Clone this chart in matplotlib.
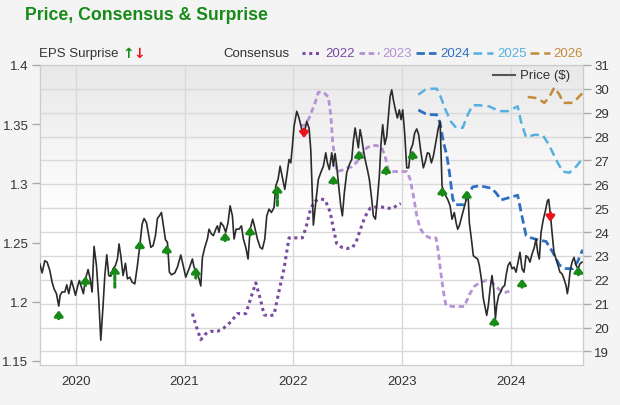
import matplotlib
matplotlib.use('Agg')
import numpy as np
from matplotlib import pyplot as plt
from matplotlib.lines import Line2D

plt.rcParams['font.family'] = ['Liberation Sans', 'DejaVu Sans']

# share price ($), time as decimal year
price_t = [2019.668, 2019.689, 2019.714, 2019.735, 2019.760, 2019.781, 2019.799, 2019.821, 2019.842, 2019.855,
           2019.873, 2019.898, 2019.916, 2019.934, 2019.959, 2019.977, 2019.996, 2020.014, 2020.032, 2020.051,
           2020.069, 2020.088, 2020.112, 2020.131, 2020.149, 2020.167, 2020.189, 2020.210, 2020.229, 2020.250,
           2020.266, 2020.284, 2020.302, 2020.321, 2020.342, 2020.364, 2020.382, 2020.397, 2020.413, 2020.434,
           2020.456, 2020.474, 2020.496, 2020.517, 2020.542, 2020.566, 2020.588, 2020.609, 2020.627, 2020.649,
           2020.670, 2020.689, 2020.710, 2020.732, 2020.750, 2020.768, 2020.787, 2020.805, 2020.824, 2020.842,
           2020.860, 2020.879, 2020.910, 2020.934, 2020.965, 2020.980, 2021.011, 2021.041, 2021.072, 2021.087,
           2021.112, 2021.133, 2021.149, 2021.164, 2021.186, 2021.210, 2021.225, 2021.247, 2021.265, 2021.287,
           2021.302, 2021.317, 2021.333, 2021.357, 2021.379, 2021.400, 2021.419, 2021.440, 2021.455, 2021.474,
           2021.501, 2021.523, 2021.541, 2021.563, 2021.584, 2021.603, 2021.627, 2021.646, 2021.670, 2021.695,
           2021.716, 2021.738, 2021.756, 2021.777, 2021.799, 2021.823, 2021.839, 2021.860, 2021.879, 2021.900,
           2021.922, 2021.940, 2021.961, 2021.977, 2021.992, 2022.007, 2022.032, 2022.053, 2022.075, 2022.099,
           2022.124, 2022.145, 2022.161, 2022.185, 2022.210, 2022.231, 2022.253, 2022.277, 2022.299, 2022.314,
           2022.332, 2022.354, 2022.369, 2022.385, 2022.400, 2022.421, 2022.437, 2022.452, 2022.470, 2022.492,
           2022.516, 2022.538, 2022.553, 2022.569, 2022.584, 2022.599, 2022.615, 2022.630, 2022.645, 2022.661,
           2022.682, 2022.700, 2022.722, 2022.737, 2022.756, 2022.774, 2022.792, 2022.808, 2022.823, 2022.842,
           2022.860, 2022.878, 2022.891, 2022.906, 2022.921, 2022.940, 2022.958, 2022.976, 2022.992, 2023.007,
           2023.025, 2023.044, 2023.062, 2023.081, 2023.099, 2023.117, 2023.136, 2023.154, 2023.173, 2023.197,
           2023.216, 2023.234, 2023.252, 2023.271, 2023.289, 2023.314, 2023.335, 2023.351, 2023.369, 2023.387,
           2023.412, 2023.421, 2023.443, 2023.461, 2023.482, 2023.498, 2023.513, 2023.528, 2023.544, 2023.559,
           2023.577, 2023.596, 2023.608, 2023.620, 2023.639, 2023.657, 2023.675, 2023.697, 2023.712, 2023.731,
           2023.749, 2023.768, 2023.780, 2023.795, 2023.811, 2023.829, 2023.844, 2023.860, 2023.872, 2023.890,
           2023.909, 2023.927, 2023.945, 2023.958, 2023.976, 2023.994, 2024.013, 2024.031, 2024.050, 2024.068,
           2024.086, 2024.105, 2024.123, 2024.142, 2024.160, 2024.178, 2024.197, 2024.218, 2024.234, 2024.249,
           2024.264, 2024.280, 2024.301, 2024.320, 2024.338, 2024.350, 2024.366, 2024.381, 2024.399, 2024.418,
           2024.436, 2024.454, 2024.473, 2024.491, 2024.510, 2024.522, 2024.534, 2024.546, 2024.565, 2024.583,
           2024.601, 2024.620, 2024.638, 2024.657]
price_v = [22.67, 22.29, 22.80, 22.74, 22.39, 21.90, 21.62, 21.42, 20.90, 21.35,
           21.49, 21.49, 21.79, 21.42, 21.97, 21.69, 21.35, 21.69, 21.97, 21.69,
           21.42, 22.04, 22.43, 22.04, 21.49, 23.40, 22.60, 21.21, 19.47, 20.93,
           22.18, 23.05, 22.18, 22.15, 22.46, 22.60, 22.87, 23.50, 23.01, 22.18,
           22.69, 22.04, 22.11, 21.90, 21.83, 22.60, 23.43, 24.33, 24.57, 24.40,
           23.85, 23.36, 23.43, 23.85, 24.57, 24.68, 24.82, 24.26, 23.68, 23.57,
           22.32, 22.21, 22.29, 22.53, 23.04, 22.74, 22.11, 22.46, 22.87, 22.53,
           22.32, 22.04, 21.74, 22.94, 23.36, 23.71, 24.12, 23.92, 23.85, 24.12,
           24.26, 23.99, 24.40, 24.26, 23.99, 24.40, 25.10, 24.68, 23.71, 24.12,
           24.12, 24.26, 23.71, 23.36, 22.87, 24.12, 24.54, 24.19, 23.71, 23.36,
           23.29, 23.71, 24.68, 24.96, 24.82, 25.03, 25.93, 26.21, 26.76, 26.28,
           25.79, 26.35, 27.04, 26.90, 27.60, 28.43, 29.06, 28.78, 28.36, 28.08,
           28.64, 28.36, 27.46, 24.29, 25.37, 26.21, 26.49, 26.76, 27.32, 26.90,
           26.62, 27.32, 26.76, 27.29, 26.76, 25.79, 25.10, 24.68, 25.65, 26.49,
           26.83, 27.04, 27.81, 28.36, 27.94, 27.53, 28.29, 27.94, 27.46, 27.04,
           26.62, 26.21, 25.37, 24.68, 24.54, 25.37, 26.35, 27.74, 28.50, 27.67,
           28.01, 28.99, 29.68, 29.96, 29.54, 29.12, 28.78, 29.12, 28.71, 29.12,
           28.15, 26.69, 26.69, 27.46, 27.67, 28.15, 28.32, 28.08, 27.39, 26.69,
           26.97, 27.32, 27.29, 26.90, 27.18, 27.81, 28.36, 28.64, 25.93, 25.65,
           25.44, 25.37, 25.10, 24.54, 24.82, 24.40, 24.12, 24.26, 24.54, 24.82,
           25.10, 25.44, 25.65, 24.40, 23.71, 23.01, 22.94, 22.87, 22.60, 22.04,
           21.21, 20.79, 20.51, 20.93, 21.62, 22.18, 21.62, 20.37, 20.93, 21.35,
           21.49, 21.69, 21.76, 22.18, 22.60, 22.74, 22.46, 22.53, 22.32, 22.74,
           23.15, 22.46, 22.32, 23.01, 22.94, 22.74, 23.08, 23.36, 23.71, 23.15,
           22.87, 23.99, 24.54, 24.89, 25.30, 25.37, 24.75, 23.99, 23.15, 22.87,
           22.60, 22.32, 22.25, 22.04, 21.76, 21.42, 21.76, 22.32, 22.74, 22.94,
           22.62, 22.46, 22.67, 22.74]

# consensus EPS estimates per fiscal year
c2022_t = [2021.072, 2021.112, 2021.149, 2021.195, 2021.241, 2021.302, 2021.363, 2021.425, 2021.486, 2021.563,
           2021.609, 2021.655, 2021.695, 2021.732, 2021.777, 2021.823, 2021.869, 2021.915, 2021.961, 2022.001,
           2022.084, 2022.115, 2022.161, 2022.201, 2022.247, 2022.293, 2022.339, 2022.369, 2022.400, 2022.446,
           2022.492, 2022.547, 2022.584, 2022.621, 2022.661, 2022.707, 2022.753, 2022.814, 2022.875, 2022.921,
           2022.958, 2022.989]
c2022_v = [1.190, 1.178, 1.168, 1.173, 1.175, 1.175, 1.178, 1.183, 1.190, 1.190,
           1.203, 1.216, 1.203, 1.189, 1.188, 1.189, 1.209, 1.228, 1.254, 1.254,
           1.254, 1.262, 1.279, 1.285, 1.287, 1.286, 1.276, 1.262, 1.249, 1.246,
           1.245, 1.246, 1.252, 1.262, 1.272, 1.279, 1.280, 1.280, 1.279, 1.279,
           1.282, 1.283]

c2023_t = [2022.069, 2022.106, 2022.145, 2022.201, 2022.231, 2022.277, 2022.323, 2022.345, 2022.363, 2022.385,
           2022.400, 2022.446, 2022.492, 2022.538, 2022.584, 2022.630, 2022.676, 2022.722, 2022.768, 2022.814,
           2022.845, 2022.875, 2022.921, 2022.983, 2023.044, 2023.074, 2023.105, 2023.136, 2023.166, 2023.212,
           2023.259, 2023.314, 2023.335, 2023.357, 2023.381, 2023.405, 2023.467, 2023.574, 2023.620, 2023.666,
           2023.712, 2023.774, 2023.820, 2023.866, 2023.912, 2023.958, 2023.988]
c2023_v = [1.349, 1.349, 1.355, 1.368, 1.377, 1.377, 1.373, 1.358, 1.335, 1.318,
           1.310, 1.311, 1.313, 1.314, 1.318, 1.325, 1.330, 1.332, 1.332, 1.330,
           1.323, 1.311, 1.310, 1.310, 1.310, 1.304, 1.290, 1.273, 1.262, 1.256,
           1.254, 1.254, 1.242, 1.225, 1.209, 1.197, 1.196, 1.196, 1.206, 1.213,
           1.216, 1.218, 1.217, 1.213, 1.209, 1.208, 1.209]

c2024_t = [2023.151, 2023.213, 2023.274, 2023.320, 2023.351, 2023.381, 2023.412, 2023.436, 2023.467, 2023.492,
           2023.574, 2023.605, 2023.651, 2023.712, 2023.820, 2023.866, 2023.912, 2023.988, 2024.065, 2024.096,
           2024.142, 2024.188, 2024.264, 2024.326, 2024.387, 2024.449, 2024.510, 2024.571, 2024.617, 2024.663]
c2024_v = [1.362, 1.359, 1.358, 1.358, 1.351, 1.335, 1.324, 1.310, 1.287, 1.282,
           1.282, 1.290, 1.297, 1.298, 1.296, 1.292, 1.286, 1.288, 1.290, 1.276,
           1.256, 1.254, 1.252, 1.251, 1.242, 1.231, 1.228, 1.228, 1.234, 1.244]

c2025_t = [2023.151, 2023.213, 2023.274, 2023.320, 2023.357, 2023.397, 2023.452, 2023.498, 2023.559, 2023.605,
           2023.651, 2023.712, 2023.804, 2023.896, 2023.973, 2024.065, 2024.096, 2024.142, 2024.218, 2024.295,
           2024.356, 2024.418, 2024.479, 2024.540, 2024.601, 2024.663]
c2025_v = [1.375, 1.379, 1.380, 1.380, 1.373, 1.363, 1.352, 1.347, 1.347, 1.358,
           1.366, 1.366, 1.365, 1.361, 1.361, 1.365, 1.352, 1.339, 1.341, 1.341,
           1.332, 1.320, 1.310, 1.309, 1.314, 1.321]

c2026_t = [2024.157, 2024.249, 2024.310, 2024.356, 2024.402, 2024.449, 2024.485, 2024.571, 2024.617, 2024.657]
c2026_v = [1.373, 1.372, 1.368, 1.373, 1.381, 1.375, 1.368, 1.368, 1.372, 1.376]

# EPS surprise arrows (time, arrow tip, tail end) in price units
beat_t = [2019.842, 2020.088, 2020.358, 2020.588, 2020.836, 2021.103, 2021.373, 2021.603, 2021.854,
          2022.369, 2022.605, 2022.854, 2023.099, 2023.372, 2023.596, 2023.850, 2024.105, 2024.623]
beat_tip = [20.72, 22.15, 22.56, 23.64, 23.46, 22.53, 23.99, 24.22, 25.96,
            26.37, 27.42, 26.79, 27.42, 25.89, 25.75, 20.44, 22.04, 22.56]
beat_tail = [20.37, 21.76, 21.69, 23.32, 23.12, 22.07, 23.64, 23.87, 25.12,
             26.04, 27.07, 26.44, 27.07, 25.54, 25.43, 20.10, 21.69, 22.21]
miss_t = [2022.099, 2024.366]
miss_tip = [27.94, 24.43]
miss_tail = [28.32, 24.82]

years = [2020, 2021, 2022, 2023, 2024]
price_ticks = list(range(19, 32))
eps_ticks = [1.15, 1.2, 1.25, 1.3, 1.35, 1.4]
eps_labels = ['1.15', '1.2', '1.25', '1.3', '1.35', '1.4']

GREEN = '#178a17'
RED = '#e8141c'
TXT = '#333333'

fig = plt.figure(figsize=(6.2, 4.06), dpi=100, facecolor='#f4f4f4')
ax = fig.add_axes([39.5 / 620, 1 - 366 / 406, 543.5 / 620, 300 / 406])
ax_eps = ax.twinx()
ax_top = ax.twinx()
ax.set_facecolor('white')

# grey-to-white fade in the upper half of the plot
grad = np.ones((200, 1, 3))
fade = np.clip(1 - np.linspace(0, 1, 200) / 0.5, 0, 1)
grad[:, 0, :] = (1 - 0.09 * fade)[:, None]
ax.imshow(grad, extent=[0, 1, 0, 1], transform=ax.transAxes, aspect='auto', zorder=0)

ax.set_xlim(2019.665, 2024.666)
ax.set_ylim(18.43, 30.93)
ax.set_xticks(years)
ax.set_xticklabels([str(y) for y in years])
ax.set_yticks(price_ticks)
ax.yaxis.tick_right()
ax.set_axisbelow(True)
ax.grid(True, color='#d9d9d9', lw=1)
ax.tick_params(axis='x', length=0, pad=7, labelsize=9.5, labelcolor=TXT)
ax.tick_params(axis='y', length=6, width=1, color='#aaaaaa', pad=2, labelsize=9.5, labelcolor=TXT)
for s in ax.spines.values():
    s.set_color('#cccccc')

ax_eps.yaxis.tick_left()
ax_eps.set_ylim(1.1466, 1.4)
ax_eps.set_yticks(eps_ticks)
ax_eps.set_yticklabels(eps_labels)
ax_eps.tick_params(axis='y', length=6, width=1, color='#aaaaaa', pad=2, labelsize=9.5, labelcolor=TXT)
for s in ax_eps.spines.values():
    s.set_color('#cccccc')

cons = [
    (c2022_t, c2022_v, '#7a4aa3', (0, (1, 1.2)), 2.2),
    (c2023_t, c2023_v, '#b592d4', (0, (2, 1.3)), 2.0),
    (c2024_t, c2024_v, '#2e6fc2', (0, (3, 1.5)), 2.0),
    (c2025_t, c2025_v, '#55b0e0', (0, (3.5, 2)), 1.8),
    (c2026_t, c2026_v, '#c48a3a', (0, (3.5, 2)), 1.8),
]
for t, v, col, ls, lw in cons:
    ax_eps.plot(t, v, color=col, ls=ls, lw=lw)

ax_top.set_ylim(ax.get_ylim())
ax_top.axis('off')
ax_top.plot(price_t, price_v, color='#2b2b2b', lw=1.2)

def arrow(x, tip, tail, col):
    ls = (0, (1.5, 0.8)) if abs(tip - tail) > 0.55 else '-'
    ax_top.annotate('', xy=(x, tip), xytext=(x, tail),
                    arrowprops=dict(arrowstyle='-|>,head_length=0.32,head_width=0.25',
                                    color=col, lw=2.2, ls=ls, shrinkA=0, shrinkB=0),
                    annotation_clip=False)

for x, tip, tail in zip(beat_t, beat_tip, beat_tail):
    arrow(x, tip, tail, GREEN)
for x, tip, tail in zip(miss_t, miss_tip, miss_tail):
    arrow(x, tip, tail, RED)

# title and legend texts
fig.text(25 / 620, 1 - 15 / 406, 'Price, Consensus & Surprise', color=GREEN,
         fontsize=12.7, fontweight='bold', va='center')
ly = 1 - 54 / 406
fig.text(39 / 620, ly, 'EPS Surprise', fontsize=9.5, color=TXT, va='center')
fig.text(122 / 620, ly, '\u2191', fontsize=10, color=GREEN, va='center', fontweight='bold',
         family=['DejaVu Sans'])
fig.text(133 / 620, ly, '\u2193', fontsize=10, color=RED, va='center', fontweight='bold',
         family=['DejaVu Sans'])
fig.text(223 / 620, ly, 'Consensus', fontsize=9.5, color=TXT, va='center')

leg = [('2022', 302, 325), ('2023', 359, 382), ('2024', 416, 440), ('2025', 473, 497), ('2026', 530, 553)]
for (name, x0, xt), (_, _, col, ls, lw) in zip(leg, cons):
    fig.add_artist(Line2D([x0 / 620, (x0 + 20) / 620], [ly, ly], transform=fig.transFigure,
                          color=col, ls=ls, lw=lw))
    fig.text(xt / 620, ly, name, fontsize=9.5, color=col, va='center')

py = 1 - 76 / 406
fig.add_artist(Line2D([493 / 620, 515 / 620], [py, py], transform=fig.transFigure, color='#555555', lw=1.5))
fig.text(520 / 620, py, 'Price ($)', fontsize=9.5, color=TXT, va='center')

fig.savefig('out.png', dpi=100, facecolor=fig.get_facecolor())
